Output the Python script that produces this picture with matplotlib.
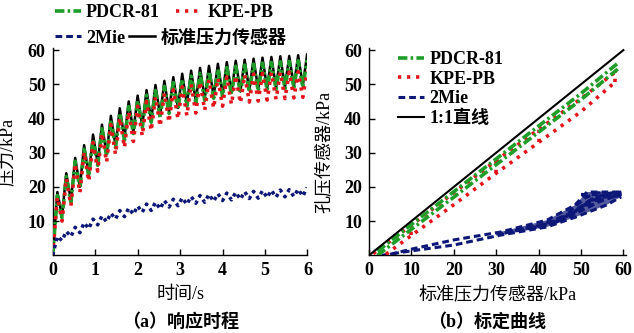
import numpy as np
import matplotlib
matplotlib.use('Agg')
import matplotlib.pyplot as plt

plt.rcParams['font.family'] = ['Liberation Serif', 'Noto Sans CJK SC']
plt.rcParams['font.weight'] = 'bold'
plt.rcParams['font.size'] = 13
plt.rcParams['axes.unicode_minus'] = False

# ---------------- (a) 响应时程 ----------------
# 每个加载周期的峰值/谷值时刻 (s)
t_peak = [0.11, 0.32, 0.53, 0.74, 0.95, 1.16, 1.37, 1.58, 1.79, 2.00,
          2.21, 2.42, 2.63, 2.84, 3.05, 3.26, 3.47, 3.68, 3.89, 4.10,
          4.31, 4.52, 4.73, 4.94, 5.15, 5.36, 5.57, 5.78, 5.99]
t_trough = [0.22, 0.43, 0.64, 0.85, 1.06, 1.27, 1.48, 1.69, 1.90, 2.11,
            2.32, 2.53, 2.74, 2.95, 3.16, 3.37, 3.58, 3.79, 4.00, 4.21,
            4.42, 4.63, 4.84, 5.05, 5.26, 5.47, 5.68, 5.89]

# 标准压力传感器 (kPa)
std_peak = [18.5, 24.0, 28.5, 32.2, 35.3, 38.2, 40.8, 43.0, 45.0, 46.7,
            48.3, 49.8, 51.0, 52.1, 53.1, 54.0, 54.8, 55.4, 56.0, 56.5,
            56.9, 57.2, 57.5, 57.8, 58.0, 58.2, 58.3, 58.5, 58.7]
std_trough = [11.5, 16.0, 20.0, 23.5, 26.8, 29.5, 32.0, 34.2, 36.1, 37.8,
              39.4, 40.8, 42.0, 43.1, 44.1, 45.0, 45.8, 46.4, 47.0, 47.5,
              47.9, 48.2, 48.5, 48.8, 49.0, 49.2, 49.4, 49.6]

# PDCR-81
pdcr_peak = [17.5, 23.0, 27.5, 31.0, 34.0, 37.0, 39.5, 41.6, 43.5, 45.2,
             46.8, 48.2, 49.4, 50.5, 51.5, 52.4, 53.2, 53.8, 54.4, 54.9,
             55.3, 55.6, 55.9, 56.2, 56.4, 56.6, 56.7, 56.9, 57.1]
pdcr_trough = [11.0, 15.5, 19.5, 23.0, 26.3, 29.0, 31.5, 33.7, 35.6, 37.3,
               38.9, 40.3, 41.5, 42.6, 43.6, 44.5, 45.3, 45.9, 46.5, 47.0,
               47.4, 47.7, 48.0, 48.3, 48.5, 48.7, 48.9, 49.1]

# KPE-PB
kpe_peak = [17.0, 22.5, 26.8, 30.2, 33.0, 35.8, 38.2, 40.2, 42.0, 43.6,
            45.0, 46.3, 47.4, 48.4, 49.3, 50.1, 50.8, 51.3, 51.8, 52.2,
            52.5, 52.8, 53.0, 53.2, 53.4, 53.5, 53.6, 53.7, 53.9]
kpe_trough = [10.0, 14.5, 18.3, 21.6, 24.6, 27.2, 29.5, 31.5, 33.3, 34.9,
              36.4, 37.7, 38.9, 39.9, 40.8, 41.6, 42.4, 43.0, 43.6, 44.1,
              44.5, 44.8, 45.1, 45.4, 45.6, 45.8, 46.0, 46.2]

# 2Mie
mie_peak = [5.5, 7.0, 8.2, 9.5, 10.6, 11.5, 12.3, 13.1, 13.8, 14.4,
            15.0, 15.5, 16.0, 16.4, 16.8, 17.2, 17.5, 17.8, 18.0, 18.2,
            18.4, 18.6, 18.7, 18.9, 19.0, 19.1, 19.2, 19.3, 19.8]
mie_trough = [4.3, 5.5, 6.6, 7.8, 8.9, 9.8, 10.6, 11.3, 12.0, 12.6,
              13.1, 13.6, 14.1, 14.5, 14.9, 15.2, 15.5, 15.8, 16.0, 16.2,
              16.4, 16.6, 16.7, 16.9, 17.0, 17.1, 17.2, 17.3]

# ---------------- (b) 标定曲线 ----------------
line11_x = [0, 60]
line11_y = [0, 60]

pdcr_x = [2, 10, 20, 30, 40, 50, 59]
pdcr_up = [1.2, 9.0, 18.6, 28.2, 37.8, 47.3, 56.5]
pdcr_lo = [0.0, 7.6, 17.0, 26.5, 36.0, 45.5, 54.8]

kpe_x_up = [1, 10, 20, 30, 40, 50, 58]
kpe_up = [0.5, 8.8, 18.3, 27.7, 36.8, 45.8, 53.5]
kpe_x_lo = [4, 10, 20, 30, 40, 50, 58]
kpe_lo = [0.3, 5.8, 14.8, 24.0, 33.0, 42.0, 50.6]
kpe_rungs = [1, 3, 4, 6]   # 加卸载转折处

mie_x_lo = [3, 10, 20, 31, 42, 49, 56, 59.5]
mie_lo = [0.0, 1.3, 3.0, 5.9, 8.3, 11.3, 14.7, 17.1]
mie_x_up = [5, 10, 20, 31, 42, 48.6, 51.4, 55, 59.5]
mie_up = [0.3, 1.8, 4.5, 6.8, 10.3, 14.7, 18.5, 18.5, 18.5]
mie_loops_x = [[30, 40, 46, 51, 55, 59.5],
               [32, 41, 47, 52, 56, 59.5],
               [35, 43, 48, 52, 56, 59.5],
               [38, 44, 49, 53, 57, 59.5],
               [40, 46, 50, 54, 59.5],
               [44, 48, 52, 55, 59.5],
               [47, 51, 54, 58],
               [50, 60]]
mie_loops_y = [[6.2, 8.4, 10.8, 13.6, 16.3, 17.8],
               [6.5, 9.0, 12.0, 15.2, 17.4, 18.0],
               [7.2, 9.6, 12.6, 16.0, 18.0, 18.3],
               [7.8, 9.9, 13.0, 16.8, 18.2, 18.5],
               [8.2, 10.6, 13.0, 15.5, 18.0],
               [9.6, 12.3, 15.8, 17.0, 17.4],
               [12.5, 16.8, 18.3, 18.0],
               [17.8, 17.6]]

c_green = '#1e9e28'
c_red = '#e3141b'
c_navy = '#0d1777'
c_black = 'black'
ls_green = (0, (2.6, 0.9, 0.7, 0.9))
ls_red = (0, (0.9, 1.6))
ls_navy = (0, (2.2, 1.3))
ls_navy_dot = (0, (1.0, 1.1))


def zigzag(peak, trough, t_p, t_t):
    # 从0开始，峰谷交替连接
    t = [0.0]
    v = [0.0]
    for i in range(len(peak)):
        t.append(t_p[i])
        v.append(peak[i])
        if i < len(trough):
            t.append(t_t[i])
            v.append(trough[i])
    return np.array(t), np.array(v)


fig = plt.figure(figsize=(6.34, 3.33), dpi=100)
ax1 = fig.add_axes([0.0831, 0.2333, 0.4019, 0.6234])
ax2 = fig.add_axes([0.5820, 0.2333, 0.4046, 0.6234])

t, v = zigzag(std_peak, std_trough, t_peak, t_trough)
h_std, = ax1.plot(t, v, color=c_black, lw=1.8, zorder=2)
t, v = zigzag(pdcr_peak, pdcr_trough, t_peak, t_trough)
h_pdcr, = ax1.plot(t, v, color=c_green, lw=2.6, ls=ls_green, zorder=3)
t, v = zigzag(kpe_peak, kpe_trough, t_peak, t_trough)
h_kpe, = ax1.plot(t, v, color=c_red, lw=2.6, ls=ls_red, zorder=4)
t, v = zigzag(mie_peak, mie_trough, t_peak, t_trough)
ax1.plot(t, v, color=c_navy, lw=2.5, ls=ls_navy_dot, zorder=4)
h_mie = plt.Line2D([], [], color=c_navy, lw=2.2, ls=ls_navy)

ax1.set_xlim(0, 6)
ax1.set_ylim(0, 60.7)
ax1.set_xticks(range(0, 7))
ax1.set_yticks(range(10, 61, 10))
ax1.set_xlabel('时间/s')
ax1.set_ylabel('压力/kPa')

# 标定曲线
ax2.plot(line11_x, line11_y, color=c_black, lw=1.5, zorder=5)
ax2.plot(pdcr_x, pdcr_up, color=c_green, lw=2.6, ls=ls_green, zorder=4)
ax2.plot(pdcr_x, pdcr_lo, color=c_green, lw=2.6, ls=ls_green, zorder=4)
ax2.plot(kpe_x_up, kpe_up, color=c_red, lw=2.6, ls=ls_red, zorder=3)
ax2.plot(kpe_x_lo, kpe_lo, color=c_red, lw=2.6, ls=ls_red, zorder=3)
for i in kpe_rungs:
    ax2.plot([kpe_x_lo[i], kpe_x_up[i]], [kpe_lo[i], kpe_up[i]],
             color=c_red, lw=2.6, ls=ls_red, zorder=3)

# 2Mie 滞回环较宽的部分 (x >= 31) 填充
lo_sel = [i for i, x in enumerate(mie_x_lo) if x >= 31]
up_sel = [i for i, x in enumerate(mie_x_up) if x >= 31]
band_x = [mie_x_lo[i] for i in lo_sel] + [mie_x_up[i] for i in up_sel[::-1]]
band_y = [mie_lo[i] for i in lo_sel] + [mie_up[i] for i in up_sel[::-1]]
ax2.fill(band_x, band_y, color=c_navy, alpha=0.7, lw=0)
ax2.plot(mie_x_lo, mie_lo, color=c_navy, lw=2.2, ls=ls_navy)
ax2.plot(mie_x_up, mie_up, color=c_navy, lw=2.2, ls=ls_navy)
for lx, ly in zip(mie_loops_x, mie_loops_y):
    ax2.plot(lx, ly, color=c_navy, lw=2.2, ls=ls_navy)

ax2.set_xlim(0, 60.5)
ax2.set_ylim(0, 60.7)
ax2.set_xticks(range(0, 61, 10))
ax2.set_yticks(range(10, 61, 10))
ax2.set_xlabel('标准压力传感器/kPa')
ax2.set_ylabel('孔压传感器/kPa')

for ax in (ax1, ax2):
    for s in ('top', 'right'):
        ax.spines[s].set_visible(False)
    ax.spines['left'].set_linewidth(1.0)
    ax.spines['bottom'].set_linewidth(1.0)
    ax.tick_params(direction='in', length=4, width=1, pad=5, labelsize=13)
    ax.xaxis.set_label_coords(0.5, -0.15)

ax1.yaxis.set_label_coords(-0.145, 0.5)
ax2.yaxis.set_label_coords(-0.14, 0.5)

# 图例
leg_kw = dict(frameon=False, borderpad=0, handlelength=1.45, handletextpad=0.3,
              fontsize=13, borderaxespad=0)
fig.legend([h_pdcr, h_kpe], ['PDCR-81', 'KPE-PB'], ncol=2, columnspacing=0.9,
           loc='center left', bbox_to_anchor=(0.086, 0.961), **leg_kw)
fig.legend([h_mie, h_std], ['2Mie', '标准压力传感器'], ncol=2, columnspacing=0.2,
           loc='center left', bbox_to_anchor=(0.086, 0.886), **leg_kw)

h11 = plt.Line2D([], [], color=c_black, lw=1.5)
ax2.legend([h_pdcr, h_kpe, h_mie, h11], ['PDCR-81', 'KPE-PB', '2Mie', '1:1直线'],
           loc='upper left', bbox_to_anchor=(0.113, 0.985), labelspacing=0.15,
           **leg_kw)

fig.text(0.2855, 1 - 322 / 333, '（a）响应时程', ha='center', va='center', fontsize=13)
fig.text(0.768, 1 - 322 / 333, '（b）标定曲线', ha='center', va='center', fontsize=13)

fig.savefig('out.png', dpi=100)
